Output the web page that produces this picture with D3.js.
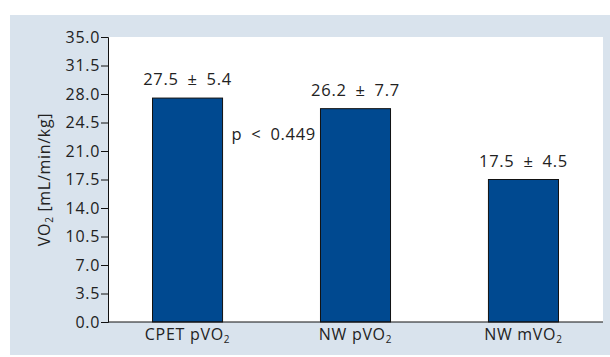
<!DOCTYPE html>
<html>
<head>
<meta charset="utf-8">
<script src="https://cdn.jsdelivr.net/npm/d3@7"></script>
<style>
	body { margin: 0; background: #fff; }
	text { font-family: "Open Sans", "Noto Sans", sans-serif; fill: #222; letter-spacing: 0.7px; }
</style>
</head>
<body>
<script>
"use strict";

// category labels: main part + subscript
const categories = [["CPET pVO", "2"], ["NW pVO", "2"], ["NW mVO", "2"]];
const means = [27.5, 26.2, 17.5];
const sds = [5.4, 7.7, 4.5];
const yTicks = [0, 3.5, 7, 10.5, 14, 17.5, 21, 24.5, 28, 31.5, 35];
const pLabel = "p < 0.449";

const width = 610, height = 357;
const margin = {left: 108, right: 7, top: 37, bottom: 35};

const svg = d3.select("body").append("svg").attr("width", width).attr("height", height);

svg.append("rect").attr("x", 10).attr("y", 15).attr("width", 600).attr("height", 340).attr("fill", "#d9e3ed");
svg.append("rect").attr("x", margin.left).attr("y", margin.top)
	.attr("width", width - margin.left - margin.right)
	.attr("height", height - margin.top - margin.bottom)
	.attr("fill", "#fff");

const x = d3.scaleBand().domain(d3.range(categories.length))
	.range([margin.left, width - margin.right]).paddingInner(0.583).paddingOuter(0.265);
const y = d3.scaleLinear().domain([0, 35]).range([height - margin.bottom, margin.top]);

svg.selectAll("rect.bar").data(means).join("rect").attr("class", "bar")
	.attr("x", (d, i) => x(i))
	.attr("y", d => y(d))
	.attr("width", x.bandwidth())
	.attr("height", d => y(0) - y(d))
	.attr("fill", "#004990")
	.attr("stroke", "#111")
	.attr("stroke-width", 1);

svg.selectAll("text.val").data(means).join("text").attr("class", "val")
	.attr("x", (d, i) => x(i) + x.bandwidth() / 2)
	.attr("y", d => y(d) - 13)
	.attr("text-anchor", "middle")
	.attr("font-size", 16.5)
	.text((d, i) => `${d.toFixed(1)}\u2002±\u2002${sds[i].toFixed(1)}`);

svg.append("text").attr("x", x(0) + x.bandwidth() + 9).attr("y", y(22.4))
	.attr("font-size", 16.5).text("p\u2002<\u20020.449");

const yAxis = svg.append("g").attr("transform", `translate(${margin.left},0)`)
	.call(d3.axisLeft(y).tickValues(yTicks).tickFormat(d3.format(".1f")).tickSize(7).tickSizeOuter(7));
yAxis.select(".domain").attr("stroke", "#111");
yAxis.selectAll(".tick line").attr("stroke", "#111");
yAxis.selectAll(".tick text").attr("font-size", 16).attr("fill", "#222").attr("x", -8)
	.style("font-family", "'Open Sans', 'Noto Sans', sans-serif");

// bottom axis line
svg.append("line").attr("x1", margin.left).attr("x2", width - margin.right)
	.attr("y1", y(0)).attr("y2", y(0)).attr("stroke", "#111");

const xl = svg.selectAll("text.cat").data(categories).join("text").attr("class", "cat")
	.attr("x", (d, i) => x(i) + x.bandwidth() / 2)
	.attr("y", y(0) + 18)
	.attr("text-anchor", "middle")
	.attr("font-size", 16);
xl.append("tspan").text(d => d[0]);
xl.append("tspan").attr("font-size", 10).attr("dy", 3).text(d => d[1]);

const yl = svg.append("text")
	.attr("transform", `translate(50,${(y(0) + y(35)) / 2}) rotate(-90)`)
	.attr("text-anchor", "middle")
	.attr("font-size", 16);
yl.append("tspan").text("VO");
yl.append("tspan").attr("font-size", 10).attr("dy", 3).text("2");
yl.append("tspan").attr("dy", -3).text(" [mL/min/kg]");
</script>
</body>
</html>
